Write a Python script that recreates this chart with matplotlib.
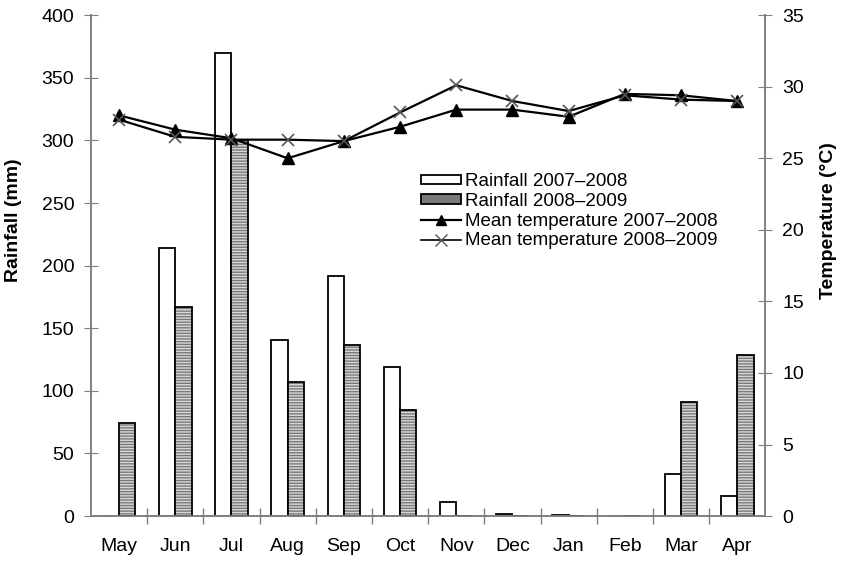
import matplotlib
matplotlib.use('Agg')
import matplotlib.pyplot as plt
import numpy as np
from matplotlib.patches import Patch
from matplotlib.lines import Line2D

plt.rcParams['font.family'] = ['Liberation Sans', 'DejaVu Sans']

# 数据
months = ['May', 'Jun', 'Jul', 'Aug', 'Sep', 'Oct', 'Nov', 'Dec', 'Jan', 'Feb', 'Mar', 'Apr']
rain_0708 = [0, 214, 370, 141, 192, 119, 11, 2, 1, 0, 34, 16]
rain_0809 = [74, 167, 300, 107, 137, 85, 0, 0, 0, 0, 91, 129]
temp_0708 = [28.0, 27.0, 26.4, 25.0, 26.2, 27.2, 28.4, 28.4, 27.9, 29.5, 29.4, 29.0]
temp_0809 = [27.7, 26.5, 26.3, 26.3, 26.2, 28.2, 30.1, 29.0, 28.3, 29.4, 29.1, 29.0]

x = np.arange(len(months))
w = 0.29
grey = '#808080'

fig = plt.figure(figsize=(8.42, 5.61), dpi=100)
ax = fig.add_axes([0.108, 0.080, 0.801, 0.893])
ax2 = ax.twinx()

# 柱状图
ax.bar(x - w / 2, rain_0708, w, color='white', edgecolor='black', linewidth=1.3, zorder=2)
ax.bar(x + w / 2, rain_0809, w, color='#7a7a7a', edgecolor='#d8d8d8', hatch='------',
       linewidth=0, zorder=2)
ax.bar(x + w / 2, rain_0809, w, color='none', edgecolor='black', linewidth=1.3, zorder=3)

# 温度折线
ax2.plot(x, temp_0708, '-', color='black', lw=1.6, marker='^', ms=8, zorder=4)
ax2.plot(x, temp_0809, '-', color='black', lw=1.6, marker='x', ms=9,
         mec='#555555', mew=1.2, zorder=4)

ax.set_xlim(-0.5, 11.5)
ax.set_ylim(0, 400)
ax.set_yticks(range(0, 401, 50))
ax2.set_ylim(0, 35)
ax2.set_yticks(range(0, 36, 5))

ax.set_xticks(x)
ax.set_xticklabels(months, fontsize=14)
ax.tick_params(axis='x', length=0, pad=16)
ax.set_xticks(np.arange(0.5, 11.5, 1), minor=True)
ax.tick_params(axis='x', which='minor', length=12, direction='inout', color=grey, width=1)
ax.tick_params(axis='y', direction='inout', length=10, color=grey, labelsize=14, pad=7)
ax2.tick_params(axis='y', direction='inout', length=10, color=grey, labelsize=14, pad=7)

for a in (ax, ax2):
    a.spines['top'].set_visible(False)
    for s in ('left', 'right', 'bottom'):
        a.spines[s].set_color(grey)
        a.spines[s].set_linewidth(1.2)

ax.set_ylabel('Rainfall (mm)', fontsize=14, fontweight='bold')
ax2.set_ylabel('Temperature (°C)', fontsize=14, fontweight='bold')
ax.yaxis.set_label_coords(-0.102, 0.59)
ax2.yaxis.set_label_coords(1.081, 0.59)

handles = [
    Patch(facecolor='white', edgecolor='black', linewidth=1.3),
    Patch(facecolor='#7a7a7a', edgecolor='black', linewidth=1.3),
    Line2D([], [], color='black', lw=1.6, marker='^', ms=7),
    Line2D([], [], color='black', lw=1.2, marker='x', ms=8, mec='#555555'),
]
labels = ['Rainfall 2007\u20132008', 'Rainfall 2008\u20132009',
          'Mean temperature 2007\u20132008', 'Mean temperature 2008\u20132009']
ax2.legend(handles, labels, loc='upper left', bbox_to_anchor=(0.49, 0.685), frameon=False,
           fontsize=13.5, handlelength=2.1, handleheight=0.4, handletextpad=0.2,
           labelspacing=0.15, borderaxespad=0, borderpad=0)

fig.savefig('out.png', dpi=100)
